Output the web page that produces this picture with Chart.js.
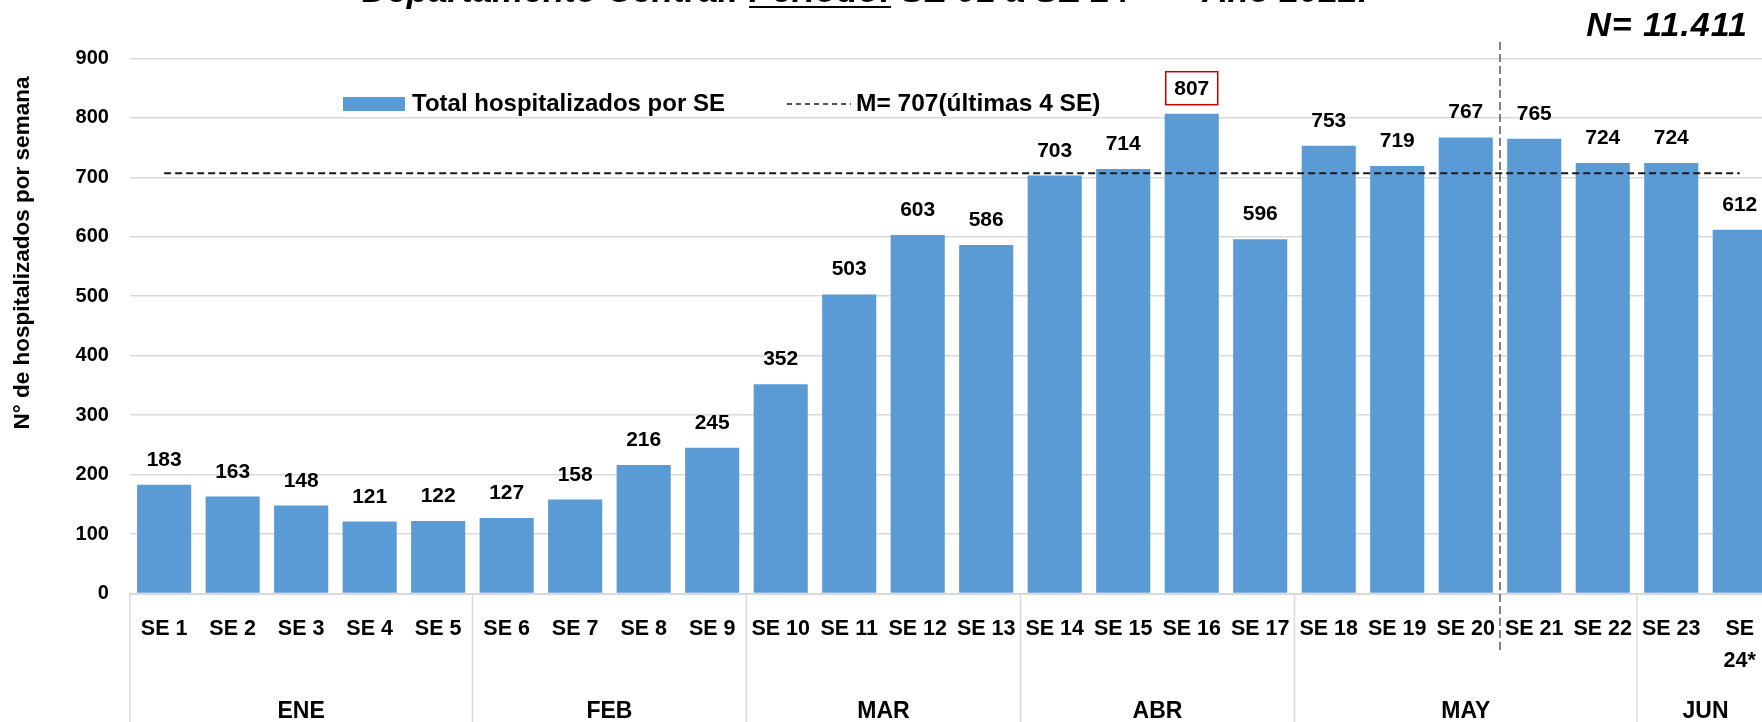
<!DOCTYPE html>
<html lang="es">
<head>
<meta charset="utf-8">
<title>Hospitalizados por SE</title>
<script src="https://cdn.jsdelivr.net/npm/chart.js@4.4.1/dist/chart.umd.min.js"></script>
<style>
    html, body { margin: 0; padding: 0; background: #fff; overflow: hidden; }
    #wrap { position: relative; width: 1762px; height: 722px; overflow: hidden; }
    #chart { position: absolute; left: 0; top: 0; }
</style>
</head>
<body>
<div id="wrap"><canvas id="chart" width="1780" height="722"></canvas></div>
<script>
// Weekly hospitalisations, SE 1 to SE 24 (2022)
const weeks = ['SE 1', 'SE 2', 'SE 3', 'SE 4', 'SE 5', 'SE 6', 'SE 7', 'SE 8', 'SE 9', 'SE 10',
    'SE 11', 'SE 12', 'SE 13', 'SE 14', 'SE 15', 'SE 16', 'SE 17', 'SE 18', 'SE 19', 'SE 20',
    'SE 21', 'SE 22', 'SE 23', ['SE', '24*']];
const hospitalized = [183, 163, 148, 121, 122, 127, 158, 216, 245, 352, 503, 603, 586, 703,
    714, 807, 596, 753, 719, 767, 765, 724, 724, 612];
// mean of the last 4 weeks, drawn across every week
const meanLine = [707, 707, 707, 707, 707, 707, 707, 707, 707, 707, 707, 707, 707, 707,
    707, 707, 707, 707, 707, 707, 707, 707, 707, 707];
const months = ['ENE', 'FEB', 'MAR', 'ABR', 'MAY', 'JUN'];
const weeksPerMonth = [5, 4, 4, 4, 5, 2];
const yMin = 0;
const yMax = 900;
const yStep = 100;
const peakIndex = 15;      // SE 16 gets the red box
const splitAfter = 19;     // dashed divider between SE 20 and SE 21
const totalLabel = 'N= 11.411';
const titleParts = ['Departamento Central: ', 'Período:', ' SE 01 a SE 24*  –  Año 2022.'];
const yTitle = 'N° de hospitalizados por semana';

const FONT = "'Liberation Sans', Arial, sans-serif";
const BAR_COLOR = '#5b9bd5';
const GRID_COLOR = '#d9d9d9';

Chart.defaults.font.family = FONT;
Chart.defaults.font.weight = 'bold';
Chart.defaults.color = '#000';

const decorations = {
    id: 'decorations',
    afterDraw(chart) {
        const ctx = chart.ctx;
        const area = chart.chartArea;
        const x = chart.scales.x;
        const half = (x.getPixelForValue(1) - x.getPixelForValue(0)) / 2;

        ctx.save();

        // month groups under the week labels
        ctx.strokeStyle = GRID_COLOR;
        ctx.lineWidth = 1.5;
        ctx.fillStyle = '#000';
        ctx.font = 'bold 23px ' + FONT;
        ctx.textAlign = 'center';
        ctx.textBaseline = 'middle';
        let start = 0;
        months.forEach((m, i) => {
            const end = start + weeksPerMonth[i];
            const left = x.getPixelForValue(start) - half;
            const right = x.getPixelForValue(end - 1) + half;
            ctx.beginPath();
            ctx.moveTo(left, area.bottom);
            ctx.lineTo(left, chart.height);
            ctx.stroke();
            ctx.fillText(m, (left + right) / 2, 712);
            start = end;
        });

        // dashed divider between SE 20 and SE 21
        const splitX = (x.getPixelForValue(splitAfter) + x.getPixelForValue(splitAfter + 1)) / 2;
        ctx.strokeStyle = '#595959';
        ctx.lineWidth = 1.5;
        ctx.setLineDash([8, 4]);
        ctx.beginPath();
        ctx.moveTo(splitX, 42);
        ctx.lineTo(splitX, 650);
        ctx.stroke();
        ctx.setLineDash([]);

        // legend inside the plot
        const bars = chart.data.datasets[0];
        const mean = chart.data.datasets[1];
        ctx.fillStyle = bars.backgroundColor;
        ctx.fillRect(343, 97, 62, 14);
        ctx.fillStyle = '#000';
        ctx.font = 'bold 24px ' + FONT;
        ctx.textAlign = 'left';
        ctx.fillText(bars.label, 412, 104);
        ctx.strokeStyle = mean.borderColor;
        ctx.lineWidth = 1.5;
        ctx.setLineDash([5, 4]);
        ctx.beginPath();
        ctx.moveTo(787, 104);
        ctx.lineTo(851, 104);
        ctx.stroke();
        ctx.setLineDash([]);
        ctx.font = 'bold 24.5px ' + FONT;
        ctx.fillText(mean.label, 856, 104);

        // y axis title
        ctx.save();
        ctx.translate(23, 253);
        ctx.rotate(-Math.PI / 2);
        ctx.textAlign = 'center';
        ctx.font = 'bold 22.5px ' + FONT;
        ctx.fillText(yTitle, 0, 0);
        ctx.restore();

        // total count, top right
        ctx.font = 'italic bold 34px ' + FONT;
        ctx.letterSpacing = '1px';
        ctx.textAlign = 'right';
        ctx.textBaseline = 'alphabetic';
        ctx.fillText(totalLabel, 1748, 36);
        ctx.letterSpacing = '0px';

        // title, only its lower part fits on the page
        ctx.font = 'italic bold 35px ' + FONT;
        ctx.textAlign = 'left';
        let tx = 362;
        titleParts.forEach((part, i) => {
            const w = ctx.measureText(part).width;
            ctx.fillText(part, tx, 2);
            if (i === 1) {
                ctx.fillRect(tx, 6, w, 2);
            }
            tx += w;
        });

        ctx.restore();
    },
    afterDatasetsDraw(chart) {
        const ctx = chart.ctx;
        const meta = chart.getDatasetMeta(0);
        ctx.save();
        ctx.font = 'bold 21px ' + FONT;
        ctx.fillStyle = '#000';
        ctx.textAlign = 'center';
        ctx.textBaseline = 'alphabetic';
        meta.data.forEach((bar, i) => {
            const baseY = bar.y - 19;
            ctx.fillText(String(hospitalized[i]), bar.x, baseY);
            if (i === peakIndex) {
                ctx.strokeStyle = '#c00000';
                ctx.lineWidth = 1.5;
                ctx.strokeRect(bar.x - 26, baseY - 23, 52, 33);
            }
        });
        ctx.restore();
    }
};

new Chart(document.getElementById('chart'), {
    type: 'bar',
    data: {
        labels: weeks,
        datasets: [{
            label: 'Total hospitalizados por SE',
            data: hospitalized,
            backgroundColor: BAR_COLOR,
            barPercentage: 0.79,
            categoryPercentage: 1,
            order: 1
        }, {
            type: 'line',
            label: 'M= 707(últimas 4 SE)',
            data: meanLine,
            borderColor: '#1a1a1a',
            borderWidth: 2,
            borderDash: [7, 4],
            pointRadius: 0,
            fill: false,
            order: 0
        }]
    },
    options: {
        responsive: false,
        animation: false,
        layout: { padding: { top: 58.4, right: 6, left: 0, bottom: 0 } },
        plugins: {
            legend: { display: false },
            tooltip: { enabled: false }
        },
        scales: {
            x: {
                grid: { display: false },
                border: { color: GRID_COLOR, width: 2 },
                ticks: {
                    autoSkip: false,
                    maxRotation: 0,
                    padding: 11,
                    font: { size: 21.5, weight: 'bold', lineHeight: 1.5 }
                },
                afterFit: scale => { scale.height = 128.5; }
            },
            y: {
                min: yMin,
                max: yMax,
                grid: { color: GRID_COLOR, lineWidth: 1.5, drawTicks: false },
                border: { display: false },
                ticks: {
                    stepSize: yStep,
                    padding: 21,
                    font: { size: 20, weight: 'bold' }
                },
                afterFit: scale => { scale.width = 129.9; }
            }
        }
    },
    plugins: [decorations]
});
</script>
</body>
</html>
